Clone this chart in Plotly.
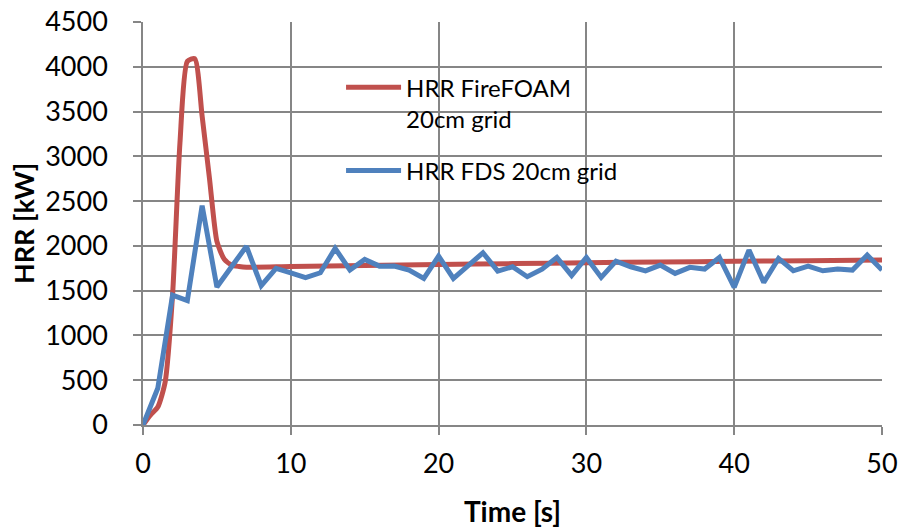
import plotly.graph_objects as go

red = '#C0504D'
blue = '#4F81BD'
grid = '#868686'
font_family = 'Lato, Open Sans, sans-serif'

# HRR FireFOAM, 20cm grid
foam_time = [0, 0.5, 1, 1.5, 2, 2.5, 3, 3.5, 4, 4.5, 5, 5.5, 6, 6.5, 7,
             10, 15, 20, 25, 30, 35, 40, 45, 50]
foam_hrr = [0, 110, 200, 480, 1450, 3150, 4060, 4090, 3450, 2750, 2050, 1850, 1785, 1770, 1762,
            1770, 1780, 1792, 1802, 1812, 1820, 1828, 1835, 1842]

# HRR FDS, 20cm grid
fds_time = list(range(0, 51))
fds_hrr = [0, 410, 1450, 1390, 2450, 1540, 1770, 1995, 1555, 1750,
           1700, 1645, 1700, 1972, 1730, 1849, 1774, 1775, 1730, 1637,
           1886, 1637, 1780, 1923, 1718, 1767, 1656, 1740, 1871, 1670,
           1871, 1648, 1830, 1767, 1722, 1786, 1693, 1760, 1741, 1871,
           1537, 1953, 1592, 1860, 1722, 1774, 1722, 1741, 1730, 1897,
           1730]

x_ticks = [0, 10, 20, 30, 40, 50]
y_ticks = [0, 500, 1000, 1500, 2000, 2500, 3000, 3500, 4000, 4500]

fig = go.Figure()
fig.add_trace(go.Scatter(x=foam_time, y=foam_hrr, mode='lines',
                         name='HRR FireFOAM<br>20cm grid', legendgroup='a',
                         line=dict(color=red, width=5, shape='spline', smoothing=0.6)))
fig.add_trace(go.Scatter(x=fds_time, y=fds_hrr, mode='lines',
                         name='HRR FDS 20cm grid', legendgroup='b',
                         line=dict(color=blue, width=5)))

axis_common = dict(showgrid=True, gridcolor=grid, gridwidth=1.5,
                   showline=True, linecolor=grid, linewidth=1.5,
                   ticks='outside', ticklen=8, tickcolor=grid, tickwidth=1.5,
                   zeroline=False, automargin=False, ticklabeloverflow='allow',
                   tickfont=dict(size=27, color='black'))

fig.update_xaxes(range=[0, 50], tickvals=x_ticks, ticklabelstandoff=6,
                 title=dict(text='<b>Time [s]</b>', font=dict(size=28, color='black'), standoff=28),
                 **axis_common)
fig.update_yaxes(range=[0, 4500], tickvals=y_ticks, ticklabelstandoff=20,
                 title=dict(text='<b>HRR [kW]</b>', font=dict(size=27, color='black'), standoff=3),
                 **axis_common)

# white panel behind the legend (hides the gridlines, as in the original)
fig.add_shape(type='rect', xref='paper', yref='paper',
              x0=0.264, x1=0.648, y0=0.486, y1=0.968,
              fillcolor='white', line=dict(width=0), layer='between')

fig.update_layout(
    width=902, height=528,
    margin=dict(l=143, r=20, t=22, b=103),
    paper_bgcolor='white', plot_bgcolor='white',
    font=dict(family=font_family, color='black'),
    showlegend=True,
    legend=dict(x=0.268, y=0.893, xanchor='left', yanchor='top', valign='top',
                bgcolor='rgba(0,0,0,0)', font=dict(size=24, color='black'),
                tracegroupgap=18, itemwidth=55),
)

# drop the default 8px body margin so the 902x528 figure fills the window
fig.write_html('out.html', config={'displayModeBar': False},
               post_script="document.body.style.margin='0';")
